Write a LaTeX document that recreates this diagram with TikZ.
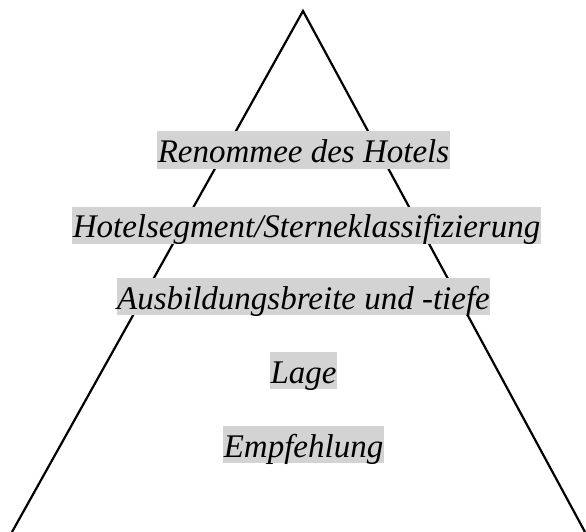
\documentclass[tikz,border=0pt]{standalone}
\usepackage{fontspec}
\setmainfont[Ligatures=CommonOff]{Liberation Serif}
\definecolor{boxgray}{RGB}{211,211,211}
\tikzset{
  level/.style={fill=boxgray, inner xsep=0.5pt, inner ysep=0pt, minimum height=37pt,
    font=\fontsize{33}{38}\selectfont\itshape, text depth=6pt, text height=31pt},
  edge/.style={line width=2.2pt, line join=miter}
}
\begin{document}
\begin{tikzpicture}[x=1pt,y=-1pt]
\useasboundingbox (0,0) rectangle (586,532);
\coordinate (top) at (303,11);
\coordinate (bl) at (12,532);
\coordinate (br) at (585,532);
\draw[edge] (bl) -- (top) -- (br);
\node[level] (n1) at (303.5,150) {Renommee des Hotels};
\node[level] (n2) at (306.5,225) {Hotelsegment/Sterneklassifizierung};
\node[level] (n3) at (303.5,296.5) {Ausbildungsbreite und -tiefe};
\node[level] (n4) at (303.5,370.5) {Lage};
\node[level] (n5) at (303.5,444.5) {Empfehlung};
\end{tikzpicture}
\end{document}
